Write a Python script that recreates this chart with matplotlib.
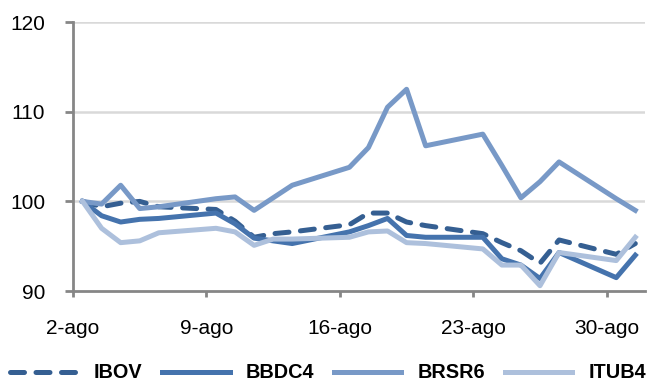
"""
Desempenho relativo: IBOV x bancos (base 100)
"""
import datetime as dt
import matplotlib
matplotlib.use("Agg")
import matplotlib.pyplot as plt
import matplotlib.dates as mdates

# Pregões de agosto
dias = [2, 3, 4, 5, 6, 9, 10, 11, 12, 13, 16, 17, 18, 19, 20,
        23, 24, 25, 26, 27, 30, 31]

ibov = [100.0, 99.4, 99.8, 100.0, 99.4, 99.1, 97.8, 96.0, 96.4, 96.6, 97.4,
        98.7, 98.7, 97.7, 97.3, 96.4, 95.4, 94.5, 93.1, 95.7, 94.1, 95.3]
bbdc4 = [100.0, 98.4, 97.7, 98.0, 98.1, 98.7, 97.5, 95.9, 95.6, 95.3, 96.6,
         97.3, 98.1, 96.2, 96.0, 96.0, 93.6, 92.9, 91.4, 94.3, 91.5, 94.0]
brsr6 = [100.0, 99.7, 101.8, 99.2, 99.4, 100.3, 100.5, 99.0, 100.4, 101.8, 103.8,
         106.0, 110.5, 112.5, 106.2, 107.5, 104.0, 100.4, 102.2, 104.4, 100.3, 99.0]
itub4 = [100.0, 97.0, 95.4, 95.6, 96.5, 97.0, 96.6, 95.1, 95.8, 95.8, 96.0,
         96.6, 96.7, 95.4, 95.3, 94.7, 92.9, 92.9, 90.6, 94.3, 93.4, 96.0]

dias_ticks = [2, 9, 16, 23, 30]
rotulos_x = ["2-ago", "9-ago", "16-ago", "23-ago", "30-ago"]
y_ticks = [90, 100, 110, 120]

plt.rcParams['font.family'] = ['Liberation Sans', 'DejaVu Sans']

# pontos no meio do dia, como no eixo de datas do Excel
datas = [dt.datetime(2010, 8, d, 12) for d in dias]

fig = plt.figure(figsize=(6.52, 3.83), dpi=100)
ax = fig.add_axes([0.112, 0.240, 0.877, 0.7025])

ax.plot(datas, ibov, color='#355f92', lw=3.6, ls=(0, (2.8, 2.3)),
        dash_capstyle='round', label='IBOV', zorder=3)
ax.plot(datas, bbdc4, color='#4573ad', lw=3.6, label='BBDC4', zorder=3)
ax.plot(datas, brsr6, color='#7899c7', lw=3.6, label='BRSR6', zorder=3)
ax.plot(datas, itub4, color='#adc0dc', lw=3.6, label='ITUB4', zorder=3)

ax.set_xlim(dt.datetime(2010, 8, 2), dt.datetime(2010, 9, 1))
ax.set_ylim(90, 120)
ax.set_yticks(y_ticks)
ax.set_xticks([mdates.date2num(dt.datetime(2010, 8, d)) for d in dias_ticks])
ax.set_xticklabels(rotulos_x)

# grade horizontal
for v in y_ticks[1:]:
    ax.axhline(v, color='#d9d9d9', lw=1.8, zorder=1)

for s in ['top', 'right']:
    ax.spines[s].set_visible(False)
for s in ['left', 'bottom']:
    ax.spines[s].set_color('#868686')
    ax.spines[s].set_linewidth(2)

ax.tick_params(axis='y', length=6, width=2, color='#868686', pad=14, labelsize=15)
ax.tick_params(axis='x', length=4, width=2, color='#868686', pad=16, labelsize=15)

leg = fig.legend(loc='center', bbox_to_anchor=(0.503, 1 - 373 / 383), ncol=4,
                 frameon=False, handlelength=3.4, handletextpad=0.8,
                 columnspacing=1.0, prop={'weight': 'bold', 'size': 14.3})

plt.savefig("out.png", dpi=100)
